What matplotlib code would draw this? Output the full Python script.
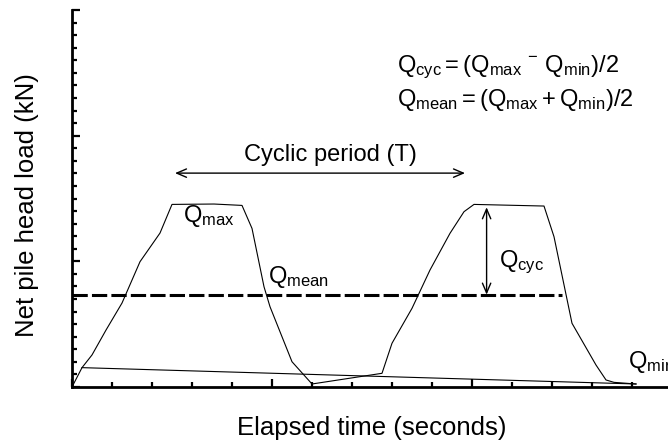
import matplotlib
matplotlib.use("Agg")
import matplotlib.pyplot as plt
import numpy as np

plt.rcParams['font.family'] = ['Liberation Sans', 'DejaVu Sans']
plt.rcParams['mathtext.fontset'] = 'custom'
plt.rcParams['mathtext.rm'] = 'Liberation Sans'
plt.rcParams['mathtext.it'] = 'Liberation Sans'
plt.rcParams['mathtext.bf'] = 'Liberation Sans'
plt.rcParams['lines.scale_dashes'] = False

# load history (time, load)
time = [0.0, 0.05, 0.10, 0.17, 0.25, 0.34, 0.44, 0.50, 0.71, 0.85, 0.90,
        0.96, 0.99, 1.05, 1.10, 1.20, 1.55, 1.60, 1.70, 1.79, 1.89, 1.96,
        2.01, 2.36, 2.41, 2.50, 2.62, 2.67, 2.71, 2.82]
load = [0.0, 0.154, 0.255, 0.453, 0.668, 0.997, 1.225, 1.453, 1.456, 1.445, 1.262,
        0.798, 0.639, 0.400, 0.201, 0.024, 0.109, 0.348, 0.626, 0.931, 1.223, 1.395,
        1.453, 1.44, 1.196, 0.507, 0.175, 0.056, 0.037, 0.024]

# closing segment back to the start of the record
close_t = [0.05, 2.82]
close_q = [0.154, 0.024]

q_mean = 0.735
mean_t = [0.0, 2.45]

fig = plt.figure(figsize=(6.68, 4.46), dpi=100)
ax = fig.add_axes([72/668, 1 - 387/446, 1 - 72/668, (387 - 10)/446])

ax.plot(time, load, color='black', linewidth=0.8)
ax.plot(close_t, close_q, color='black', linewidth=0.8)
ax.plot(mean_t, [q_mean, q_mean], color='black', linewidth=2.2,
        dashes=(11, 3), solid_capstyle='butt', dash_capstyle='butt')

# cyclic period arrow
ax.annotate('', xy=(0.515, 1.702), xytext=(1.965, 1.702),
            arrowprops=dict(arrowstyle='<->,head_length=0.7,head_width=0.3',
                            color='black', lw=1, shrinkA=0, shrinkB=0))
ax.text(1.29, 1.80, 'Cyclic period (T)', fontsize=17, ha='center', va='baseline')

# Qcyc arrow
ax.annotate('', xy=(2.073, 1.43), xytext=(2.073, q_mean),
            arrowprops=dict(arrowstyle='<->,head_length=0.7,head_width=0.3',
                            color='black', lw=1, shrinkA=0, shrinkB=0))

ax.text(0.555, 1.313, r'$\mathregular{Q_{max}}$', fontsize=17, va='baseline')
ax.text(0.98, 0.827, r'$\mathregular{Q_{mean}}$', fontsize=17, va='baseline')
ax.text(2.135, 0.955, r'$\mathregular{Q_{cyc}}$', fontsize=17, va='baseline')
ax.text(2.78, 0.151, r'$\mathregular{Q_{min}}$', fontsize=17, va='baseline', clip_on=False)

ax.text(1.625, 2.508, r'$\mathregular{Q_{cyc} = (Q_{max}\ ^{-}\ Q_{min})/2}$',
        fontsize=17, va='baseline')
ax.text(1.625, 2.236, r'$\mathregular{Q_{mean} = (Q_{max} + Q_{min})/2}$',
        fontsize=17, va='baseline')

ax.set_xlim(0, 2.98)
ax.set_ylim(0, 3.0)
ax.set_xticks([0, 1, 2])
ax.set_xticks(np.arange(0, 3.0, 0.2), minor=True)
ax.set_yticks([0, 1, 2, 3])
ax.set_yticks(np.arange(0, 3.01, 0.1), minor=True)
ax.tick_params(which='both', direction='in', labelleft=False, labelbottom=False,
               width=1.6, color='black')
ax.tick_params(which='major', length=6)
ax.tick_params(which='minor', length=3.5)
ax.spines['top'].set_visible(False)
ax.spines['right'].set_visible(False)
ax.spines['left'].set_linewidth(2)
ax.spines['bottom'].set_linewidth(2)

fig.text(27/668, 1 - 205/446, 'Net pile head load (kN)', rotation=90,
         fontsize=18.5, ha='center', va='center')
fig.text(372/668, 1 - 428/446, 'Elapsed time (seconds)',
         fontsize=18.5, ha='center', va='center')

fig.savefig('out.png', dpi=100)
